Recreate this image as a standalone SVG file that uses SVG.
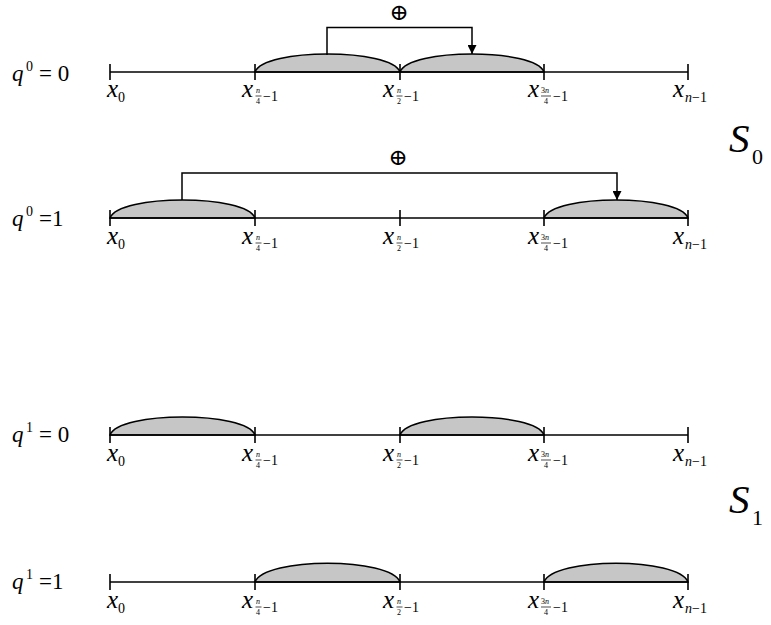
<svg xmlns="http://www.w3.org/2000/svg" width="771" height="625" viewBox="0 0 771 625">
<style>
text{font-family:Liberation Serif,DejaVu Serif,serif}
.ln{stroke:#000;stroke-width:1.6;fill:none}
.arc{fill:#c6c6c6;stroke:#000;stroke-width:1.6}
.br{stroke:#000;stroke-width:1.5;fill:none}
.it{font-style:italic}
.x{font-size:25px;font-style:italic}
.sb{font-size:14px}
.fr{font-size:8px}
.q{font-size:23px}
.op{font-size:23px;font-family:DejaVu Serif,DejaVu Sans,sans-serif}
.bar{stroke:#000;stroke-width:0.7}
</style>
<defs>
<marker id="ah" viewBox="0 0 10 10" refX="10" refY="5" markerWidth="9" markerHeight="9" markerUnits="userSpaceOnUse" orient="auto">
<path d="M0,0 L10,5 L0,10 z" fill="#000"/>
</marker>
<g id="axis">
<line class="ln" x1="110" y1="0" x2="688" y2="0"/>
<line class="ln" x1="110" y1="-8" x2="110" y2="8"/>
<line class="ln" x1="255" y1="-8" x2="255" y2="8"/>
<line class="ln" x1="400" y1="-8" x2="400" y2="8"/>
<line class="ln" x1="544" y1="-8" x2="544" y2="8"/>
<line class="ln" x1="688" y1="-8" x2="688" y2="8"/>
</g>
</defs>

<g id="row-q0-0">
<path class="arc" d="M255,72 C264,48 391,48 400,72 Z"/>
<path class="arc" d="M400,72 C409,48 535,48 544,72 Z"/>
<use href="#axis" y="72"/>
<g transform="translate(0,97)">
<text class="x" x="107" y="0">x</text><text class="sb" x="118" y="5">0</text>
<text class="x" x="242" y="0">x</text><text class="fr it" x="256" y="-4">n</text><line class="bar" x1="255.5" y1="-1" x2="261.5" y2="-1"/><text class="fr" x="256" y="6.5">4</text><text class="sb" x="263" y="4">−1</text>
<text class="x" x="383" y="0">x</text><text class="fr it" x="397" y="-4">n</text><line class="bar" x1="396.5" y1="-1" x2="402.5" y2="-1"/><text class="fr" x="397" y="6.5">2</text><text class="sb" x="404" y="4">−1</text>
<text class="x" x="528" y="0">x</text><text class="fr" x="541" y="-4">3<tspan class="it">n</tspan></text><line class="bar" x1="541" y1="-1" x2="551" y2="-1"/><text class="fr" x="544" y="6.5">4</text><text class="sb" x="553" y="4">−1</text>
<text class="x" x="673" y="0">x</text><text class="sb" x="685" y="5"><tspan class="it">n</tspan>−1</text>
</g>
<text class="q it" x="12" y="81">q</text><text class="sb" x="26" y="71">0</text><text class="q" x="39" y="81">= 0</text>
</g>

<g id="row-q0-1">
<path class="arc" d="M110,218 C119,194 246,194 255,218 Z"/>
<path class="arc" d="M544,218 C553,194 679,194 688,218 Z"/>
<use href="#axis" y="218"/>
<g transform="translate(0,244)">
<text class="x" x="107" y="0">x</text><text class="sb" x="118" y="5">0</text>
<text class="x" x="242" y="0">x</text><text class="fr it" x="256" y="-4">n</text><line class="bar" x1="255.5" y1="-1" x2="261.5" y2="-1"/><text class="fr" x="256" y="6.5">4</text><text class="sb" x="263" y="4">−1</text>
<text class="x" x="383" y="0">x</text><text class="fr it" x="397" y="-4">n</text><line class="bar" x1="396.5" y1="-1" x2="402.5" y2="-1"/><text class="fr" x="397" y="6.5">2</text><text class="sb" x="404" y="4">−1</text>
<text class="x" x="528" y="0">x</text><text class="fr" x="541" y="-4">3<tspan class="it">n</tspan></text><line class="bar" x1="541" y1="-1" x2="551" y2="-1"/><text class="fr" x="544" y="6.5">4</text><text class="sb" x="553" y="4">−1</text>
<text class="x" x="673" y="0">x</text><text class="sb" x="685" y="5"><tspan class="it">n</tspan>−1</text>
</g>
<text class="q it" x="12" y="226">q</text><text class="sb" x="26" y="216">0</text><text class="q" x="39" y="226">=1</text>
</g>

<g id="row-q1-0">
<path class="arc" d="M110,435 C119,411 246,411 255,435 Z"/>
<path class="arc" d="M400,435 C409,411 535,411 544,435 Z"/>
<use href="#axis" y="435"/>
<g transform="translate(0,461)">
<text class="x" x="107" y="0">x</text><text class="sb" x="118" y="5">0</text>
<text class="x" x="242" y="0">x</text><text class="fr it" x="256" y="-4">n</text><line class="bar" x1="255.5" y1="-1" x2="261.5" y2="-1"/><text class="fr" x="256" y="6.5">4</text><text class="sb" x="263" y="4">−1</text>
<text class="x" x="383" y="0">x</text><text class="fr it" x="397" y="-4">n</text><line class="bar" x1="396.5" y1="-1" x2="402.5" y2="-1"/><text class="fr" x="397" y="6.5">2</text><text class="sb" x="404" y="4">−1</text>
<text class="x" x="528" y="0">x</text><text class="fr" x="541" y="-4">3<tspan class="it">n</tspan></text><line class="bar" x1="541" y1="-1" x2="551" y2="-1"/><text class="fr" x="544" y="6.5">4</text><text class="sb" x="553" y="4">−1</text>
<text class="x" x="673" y="0">x</text><text class="sb" x="685" y="5"><tspan class="it">n</tspan>−1</text>
</g>
<text class="q it" x="12" y="442">q</text><text class="sb" x="26" y="432">1</text><text class="q" x="39" y="442">= 0</text>
</g>

<g id="row-q1-1">
<path class="arc" d="M255,582 C264,557 391,557 400,582 Z"/>
<path class="arc" d="M544,582 C553,557 679,557 688,582 Z"/>
<use href="#axis" y="582"/>
<g transform="translate(0,608)">
<text class="x" x="107" y="0">x</text><text class="sb" x="118" y="5">0</text>
<text class="x" x="242" y="0">x</text><text class="fr it" x="256" y="-4">n</text><line class="bar" x1="255.5" y1="-1" x2="261.5" y2="-1"/><text class="fr" x="256" y="6.5">4</text><text class="sb" x="263" y="4">−1</text>
<text class="x" x="383" y="0">x</text><text class="fr it" x="397" y="-4">n</text><line class="bar" x1="396.5" y1="-1" x2="402.5" y2="-1"/><text class="fr" x="397" y="6.5">2</text><text class="sb" x="404" y="4">−1</text>
<text class="x" x="528" y="0">x</text><text class="fr" x="541" y="-4">3<tspan class="it">n</tspan></text><line class="bar" x1="541" y1="-1" x2="551" y2="-1"/><text class="fr" x="544" y="6.5">4</text><text class="sb" x="553" y="4">−1</text>
<text class="x" x="673" y="0">x</text><text class="sb" x="685" y="5"><tspan class="it">n</tspan>−1</text>
</g>
<text class="q it" x="12" y="589">q</text><text class="sb" x="26" y="579">1</text><text class="q" x="39" y="589">=1</text>
</g>

<g id="connectors">
<path class="br" d="M327,55 V27.5 H472 V54" marker-end="url(#ah)"/>
<text class="op" x="399" y="20" text-anchor="middle">⊕</text>
<path class="br" d="M182,200 V173 H617 V200" marker-end="url(#ah)"/>
<text class="op" x="398" y="165" text-anchor="middle">⊕</text>
</g>

<g id="S0">
<text class="it" x="729" y="152" font-size="41">S</text><text x="752" y="164" font-size="22">0</text>
</g>
<g id="S1">
<text class="it" x="729" y="513" font-size="41">S</text><text x="752" y="525" font-size="22">1</text>
</g>
</svg>
